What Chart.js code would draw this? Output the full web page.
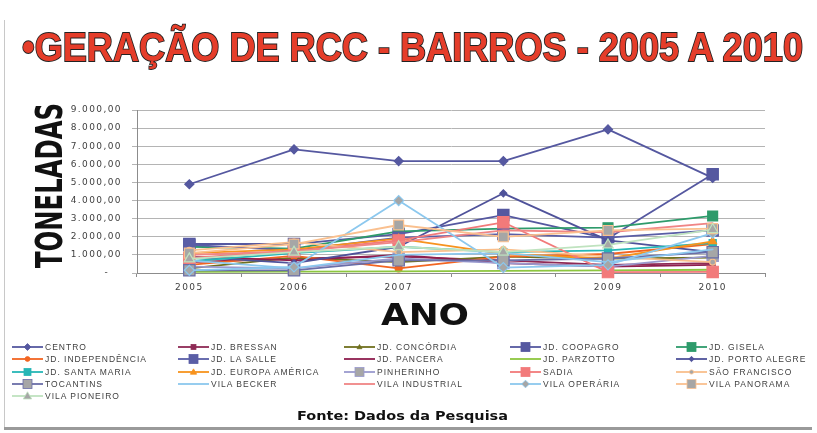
<!DOCTYPE html>
<html><head><meta charset="utf-8">
<script src="https://cdn.jsdelivr.net/npm/chart.js@4.4.1/dist/chart.umd.min.js"></script>
<style>
html,body{margin:0;padding:0;background:#fff;width:817px;height:433px;overflow:hidden}
#wrap{position:relative;width:817px;height:433px}
#c{position:absolute;left:0;top:0}
.abs{position:absolute;white-space:nowrap;transform-origin:0 0}
#title{left:22px;top:27px;font:bold 40px "Liberation Sans Narrow","Liberation Sans",Arial,sans-serif;line-height:40px;color:#E53D2A;-webkit-text-stroke:1.8px #222;paint-order:stroke fill}
#ytitle{left:31px;top:268px;font:bold 37px "DejaVu Sans",sans-serif;line-height:37px;color:#111}
#xtitle{left:381px;top:300px;font:bold 30px "DejaVu Sans",sans-serif;line-height:30px;color:#111}
#fonte{left:297px;top:410px;font:bold 12px "DejaVu Sans",sans-serif;line-height:12px;color:#111}
.lg{position:absolute;height:12px;white-space:nowrap;font:8.5px "Liberation Sans",Arial,sans-serif;letter-spacing:1px;color:#404040;line-height:12px}
.lg svg{position:absolute;left:0;top:1px}
.lg span{position:absolute;left:33px;top:0}
#lline{position:absolute;left:4px;top:20px;width:1px;height:408px;background:#c8c8c8}
#bline{position:absolute;left:4px;top:427px;width:808px;height:3px;background:#9a9a9a}
</style></head>
<body><div id="wrap">
<canvas id="c" width="817" height="433"></canvas>
<div id="lline"></div><div id="bline"></div>
<div id="title" class="abs">•GERAÇÃO DE RCC - BAIRROS - 2005 A 2010</div>
<div id="ytitle" class="abs">TONELADAS</div>
<div id="xtitle" class="abs">ANO</div>
<div id="fonte" class="abs">Fonte: Dados da Pesquisa</div>
<div id="legend"></div>
</div>
<script>
// ---- data ----
const years = ['2005','2006','2007','2008','2009','2010'];
const yTickValues = [0,1000,2000,3000,4000,5000,6000,7000,8000,9000];
const bairros = ['CENTRO','JD. BRESSAN','JD. CONCÓRDIA','JD. COOPAGRO','JD. GISELA',
  'JD. INDEPENDÊNCIA','JD. LA SALLE','JD. PANCERA','JD. PARZOTTO','JD. PORTO ALEGRE',
  'JD. SANTA MARIA','JD. EUROPA AMÉRICA','PINHERINHO','SADIA','SÃO FRANCISCO',
  'TOCANTINS','VILA BECKER','VILA INDUSTRIAL','VILA OPERÁRIA','VILA PANORAMA','VILA PIONEIRO'];
const centro        = [4900, 6830, 6180, 6180, 7930, 5250];
const jdBressan     = [600, 800, 900, 700, 450, 550];
const jdConcordia   = [250, 850, 600, 900, 800, 850];
const jdCoopagro    = [1600, 1600, 2150, 3200, 1900, 5450];
const jdGisela      = [1450, 1350, 2300, 2450, 2500, 3150];
const jdIndependencia = [450, 950, 250, 900, 1050, 1600];
const jdLaSalle     = [1550, 1250, 1950, 2150, 1950, 2350];
const jdPancera     = [900, 700, 1000, 550, 350, 450];
const jdParzotto    = [60, 80, 90, 120, 150, 180];
const jdPortoAlegre = [900, 550, 1450, 4400, 1800, 1150];
const jdSantaMaria  = [650, 1100, 1450, 1150, 1250, 1650];
const jdEuropaAmerica = [1100, 1300, 1900, 1050, 800, 1750];
const pinherinho    = [350, 250, 800, 550, 350, 950];
const sadia         = [830, 1200, 1800, 2800, 50, 60];
const saoFrancisco  = [1250, 1700, 1150, 1300, 900, 600];
const tocantins     = [150, 150, 700, 700, 800, 1150];
const vilaBecker    = [700, 250, 1000, 1100, 600, 1300];
const vilaIndustrial = [1000, 1200, 1700, 2350, 2250, 2750];
const vilaOperaria  = [150, 330, 4000, 300, 450, 2200];
const vilaPanorama  = [1100, 1600, 2650, 2000, 2350, 2450];
const vilaPioneiro  = [780, 1150, 1450, 1150, 1550, 2400];
const seriesValues = [centro, jdBressan, jdConcordia, jdCoopagro, jdGisela,
  jdIndependencia, jdLaSalle, jdPancera, jdParzotto, jdPortoAlegre,
  jdSantaMaria, jdEuropaAmerica, pinherinho, sadia, saoFrancisco,
  tocantins, vilaBecker, vilaIndustrial, vilaOperaria, vilaPanorama, vilaPioneiro];

// ---- styles ----
const GRAY = '#A6A6A6';
const styles = [
  {c:'#5558A0', p:'rectRot', r:4.5},
  {c:'#8E2A55', p:'rect', r:3.5},
  {c:'#70701E', p:'triangle', r:3.5},
  {c:'#5558A0', p:'rect', r:8},
  {c:'#2E9B6B', p:'rect', r:7},
  {c:'#F26522', p:'circle', r:3.5},
  {c:'#5A5EA6', p:'rect', r:8},
  {c:'#8E1E4E', p:false, r:0},
  {c:'#8DC63F', p:false, r:0},
  {c:'#4F529A', p:'rectRot', r:3.5},
  {c:'#26B6B6', p:'rect', r:5},
  {c:'#F7931E', p:'triangle', r:4.5},
  {c:'#9A9ACF', p:'rect', r:8, g:true},
  {c:'#F27A7A', p:'rect', r:8},
  {c:'#F9BF8C', p:'circle', r:3, g:true},
  {c:'#6A6EA8', p:'rect', r:8, g:true},
  {c:'#8CC8EE', p:false, r:0},
  {c:'#F08585', p:false, r:0},
  {c:'#8CC8EE', p:'rectRot', r:5, g:true},
  {c:'#FAC08F', p:'rect', r:7, g:true},
  {c:'#BFE3BF', p:'triangle', r:6, g:true}
];

const N = bairros.length;
const datasets = bairros.map((name,i)=>{
  const s = styles[i];
  return {
    label:name, data:seriesValues[i],
    borderColor:s.c, borderWidth:1.8, tension:0,
    pointStyle:s.p || 'circle', pointRadius:s.r, pointHoverRadius:s.r,
    pointBackgroundColor:s.g?GRAY:s.c, pointBorderColor:s.c, pointBorderWidth:1.2,
    order:N-i, clip:false
  };
});

function fmt(v){
  if(v===0) return '-\u00a0\u00a0\u00a0';
  const t = Math.round(v).toString().replace(/\B(?=(\d{3})+(?!\d))/g,'.');
  return t + ',00';
}

const spacingPlugin = {
  id:'spacing',
  beforeDraw(chart){ try{ chart.ctx.letterSpacing='1.4px'; }catch(e){} },
  afterDraw(chart){ try{ chart.ctx.letterSpacing='0px'; }catch(e){} }
};

new Chart(document.getElementById('c'),{
  type:'line',
  data:{labels:years, datasets},
  plugins:[spacingPlugin],
  options:{
    responsive:false, animation:false, devicePixelRatio:1,
    layout:{padding:{left:57,right:52,top:110,bottom:140}},
    plugins:{legend:{display:false},title:{display:false},tooltip:{enabled:false}},
    elements:{line:{borderCapStyle:'round',borderJoinStyle:'round'}},
    scales:{
      x:{
        offset:true,
        grid:{offset:true,drawOnChartArea:false,drawTicks:true,tickLength:4,color:'#8c8c8c'},
        border:{color:'#8c8c8c'},
        ticks:{font:{size:9,family:'DejaVu Sans'},color:'#404040',padding:5,maxRotation:0},
        afterFit(s){s.height=20;}
      },
      y:{
        min:0,max:9000,
        afterBuildTicks(s){ s.ticks = yTickValues.map(v=>({value:v})); },
        ticks:{callback:(v)=>fmt(v),font:{size:9,family:'DejaVu Sans'},color:'#404040',padding:10},
        grid:{color:'#b4b4b4',lineWidth:1,tickLength:5},
        border:{color:'#8c8c8c'},
        afterFit(s){s.width=80;}
      }
    }
  }
});

// ---- legend (HTML) ----
function markerSVG(s){
  const cx=15.5, cy=5;
  let m='';
  if(s.p){
    const fill = s.g?GRAY:s.c;
    const r = Math.min(s.r*0.7, 4.5);
    if(s.p==='rect'){ m=`<rect x="${cx-r}" y="${cy-r}" width="${2*r}" height="${2*r}" fill="${fill}" stroke="${s.c}" stroke-width="0.8"/>`; }
    else if(s.p==='rectRot'){ const rr=r*1.1; m=`<polygon points="${cx},${cy-rr} ${cx+rr},${cy} ${cx},${cy+rr} ${cx-rr},${cy}" fill="${fill}" stroke="${s.c}" stroke-width="0.8"/>`; }
    else if(s.p==='triangle'){ m=`<polygon points="${cx},${cy-r} ${cx+r},${cy+r*0.7} ${cx-r},${cy+r*0.7}" fill="${fill}" stroke="${s.c}" stroke-width="0.8"/>`; }
    else { m=`<circle cx="${cx}" cy="${cy}" r="${r}" fill="${fill}" stroke="${s.c}" stroke-width="0.8"/>`; }
  }
  return `<svg width="32" height="10"><line x1="0" y1="${cy}" x2="31" y2="${cy}" stroke="${s.c}" stroke-width="1.8"/>${m}</svg>`;
}
const lg = document.getElementById('legend');
bairros.forEach((name,i)=>{
  const col=i%5, row=Math.floor(i/5);
  const d=document.createElement('div');
  d.className='lg';
  d.style.left=(12+col*166)+'px';
  d.style.top=(341+row*12.25)+'px';
  d.innerHTML=markerSVG(styles[i])+'<span>'+name+'</span>';
  lg.appendChild(d);
});

// ---- fit text ----
function fit(el, w, extra){
  const nat = el.getBoundingClientRect().width;
  const s = w/nat;
  el.style.transform = (extra||'') + ' scaleX('+s+')';
}
fit(document.getElementById('title'), 781);
fit(document.getElementById('xtitle'), 88);
fit(document.getElementById('fonte'), 211);
(function(){
  const el=document.getElementById('ytitle');
  const nat=el.getBoundingClientRect().width;
  el.style.transform='rotate(-90deg) scaleX('+(165/nat)+')';
})();
</script>
</body></html>
